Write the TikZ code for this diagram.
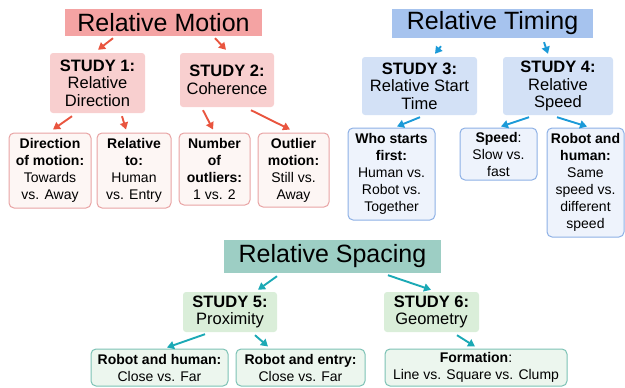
\documentclass[tikz,border=0pt]{standalone}
\usepackage{fontspec}
\setmainfont{Liberation Sans}
\usetikzlibrary{arrows.meta,calc}
\definecolor{mhead}{HTML}{F4A3A3}
\definecolor{mstudy}{HTML}{F8CFCF}
\definecolor{mleaf}{HTML}{FDF6F4}
\definecolor{mline}{HTML}{E8A3A3}
\definecolor{marrow}{HTML}{E9553F}
\definecolor{thead}{HTML}{A6C3EE}
\definecolor{tstudy}{HTML}{D3E1F6}
\definecolor{tleaf}{HTML}{EEF3FC}
\definecolor{tline}{HTML}{8DB0E5}
\definecolor{tarrow}{HTML}{1B9AD8}
\definecolor{shead}{HTML}{9DCEC4}
\definecolor{sstudy}{HTML}{DAEED9}
\definecolor{sleaf}{HTML}{ECF6EE}
\definecolor{sline}{HTML}{7CC2B5}
\definecolor{sarrow}{HTML}{1BA9B5}
\tikzset{
  box/.style={rectangle, align=center, inner sep=1pt, text=black},
  head/.style={box, font=\fontsize{25}{28}\selectfont},
  study/.style={box, rounded corners=3pt, font=\fontsize{16.5}{17.5}\selectfont},
  leaf/.style={box, rounded corners=5pt, line width=1pt, font=\fontsize{14}{17}\selectfont},
  arr/.style={line width=1.9pt, -{Triangle[length=7pt,width=8pt]}},
}
\begin{document}
\begin{tikzpicture}[x=1pt,y=-1pt]
\useasboundingbox (0,0) rectangle (625,388);
% Relative Motion
\node[head, fill=mhead, minimum width=197pt, minimum height=27pt] (rm) at (163.5,22.5) {Relative Motion};
\node[study, fill=mstudy, minimum width=95pt, minimum height=60pt] (s1) at (97.5,83) {\textbf{STUDY 1:}\\Relative\\Direction};
\node[study, fill=mstudy, minimum width=94pt, minimum height=54pt] (s2) at (227,80) {\textbf{STUDY 2:}\\Coherence};
\node[leaf, fill=mleaf, draw=mline, minimum width=82pt, minimum height=75pt] (l1) at (50,170.5) {\textbf{Direction}\\\textbf{of motion:}\\Towards\\vs. Away};
\node[leaf, fill=mleaf, draw=mline, minimum width=74pt, minimum height=75pt] (l2) at (134,170.5) {\textbf{Relative}\\\textbf{to:}\\Human\\vs. Entry};
\node[leaf, fill=mleaf, draw=mline, minimum width=71pt, minimum height=72pt] (l3) at (214.5,169) {\textbf{Number}\\\textbf{of}\\\textbf{outliers:}\\1 vs. 2};
\node[leaf, fill=mleaf, draw=mline, minimum width=71pt, minimum height=74pt] (l4) at (293.5,170) {\textbf{Outlier}\\\textbf{motion:}\\Still vs.\\Away};
\draw[arr, marrow] ($(rm.south)+(-50.5,2)$) -- ($(s1.north)+(0.5,-3)$);
\draw[arr, marrow] ($(rm.south)+(51.5,2)$) -- ($(s2.north)+(-1,-3)$);
\draw[arr, marrow] ($(s1.south)+(-25.5,3)$) -- ($(l1.north)+(3,-3)$);
\draw[arr, marrow] ($(s1.south)+(24.5,3)$) -- ($(l2.north)+(-8,-3)$);
\draw[arr, marrow] ($(s2.south)+(-24,3)$) -- ($(l3.north)+(-1.5,-3)$);
\draw[arr, marrow] ($(s2.south)+(24,3)$) -- ($(l4.north)+(-3.5,-3)$);
% Relative Timing
\node[head, fill=thead, minimum width=201pt, minimum height=29pt] (rt) at (492.5,23.5) {Relative Timing};
\node[study, fill=tstudy, minimum width=115pt, minimum height=58pt] (s3) at (419.5,86) {\textbf{STUDY 3:}\\Relative Start\\Time};
\node[study, fill=tstudy, minimum width=110pt, minimum height=58pt] (s4) at (558,86) {\textbf{STUDY 4:}\\Relative\\Speed};
\node[leaf, fill=tleaf, draw=tline, minimum width=87pt, minimum height=92pt] (l5) at (391.5,174) {\textbf{Who starts}\\\textbf{first:}\\Human vs.\\Robot vs.\\Together};
\node[leaf, fill=tleaf, draw=tline, minimum width=77pt, minimum height=52pt] (l6) at (498.5,154) {\textbf{Speed}:\\Slow vs.\\fast};
\node[leaf, fill=tleaf, draw=tline, minimum width=77pt, minimum height=109pt] (l7) at (585.5,182.5) {\textbf{Robot and}\\\textbf{human:}\\Same\\speed vs.\\different\\speed};
\draw[arr, tarrow] ($(rt.south)+(-51.5,8)$) -- ($(s3.north)+(15.5,-3)$);
\draw[arr, tarrow] ($(rt.south)+(51.5,4)$) -- ($(s4.north)+(-10,-3)$);
\draw[arr, tarrow] ($(s3.south)+(0.5,2)$) -- ($(l5.north)+(5.5,-1)$);
\draw[arr, tarrow] ($(s4.south)+(-29,2)$) -- ($(l6.north)+(2.5,-1)$);
\draw[arr, tarrow] ($(s4.south)+(-1,2)$) -- ($(l7.north)+(1.5,-1)$);
% Relative Spacing
\node[head, fill=shead, minimum width=217pt, minimum height=33pt] (rs) at (332.5,256.5) {Relative Spacing};
\node[study, fill=sstudy, minimum width=94pt, minimum height=40pt] (s5) at (230,312) {\textbf{STUDY 5:}\\Proximity};
\node[study, fill=sstudy, minimum width=95pt, minimum height=40pt] (s6) at (431.5,312) {\textbf{STUDY 6:}\\Geometry};
\node[leaf, fill=sleaf, draw=sline, minimum width=137pt, minimum height=37pt] (l8) at (159.5,367.5) {\textbf{Robot and human:}\\Close vs. Far};
\node[leaf, fill=sleaf, draw=sline, minimum width=129pt, minimum height=37pt] (l9) at (300.5,367.5) {\textbf{Robot and entry:}\\Close vs. Far};
\node[leaf, fill=sleaf, draw=sline, minimum width=182pt, minimum height=37pt] (l10) at (476,367.5) {\textbf{Formation}:\\Line vs. Square vs. Clump};
\draw[arr, sarrow] ($(rs.south)+(-55.5,3)$) -- ($(s5.north)+(28,-2)$);
\draw[arr, sarrow] ($(rs.south)+(55.5,2)$) -- ($(s6.north)+(-0.5,-2)$);
\draw[arr, sarrow] ($(s5.south)+(-25,2)$) -- ($(l8.north)+(7.5,-1)$);
\draw[arr, sarrow] ($(s5.south)+(25,3)$) -- ($(l9.north)+(-32.5,-2)$);
\draw[arr, sarrow] ($(s6.south)+(25.5,3)$) -- ($(l10.north)+(-1,-2)$);
\end{tikzpicture}
\end{document}
